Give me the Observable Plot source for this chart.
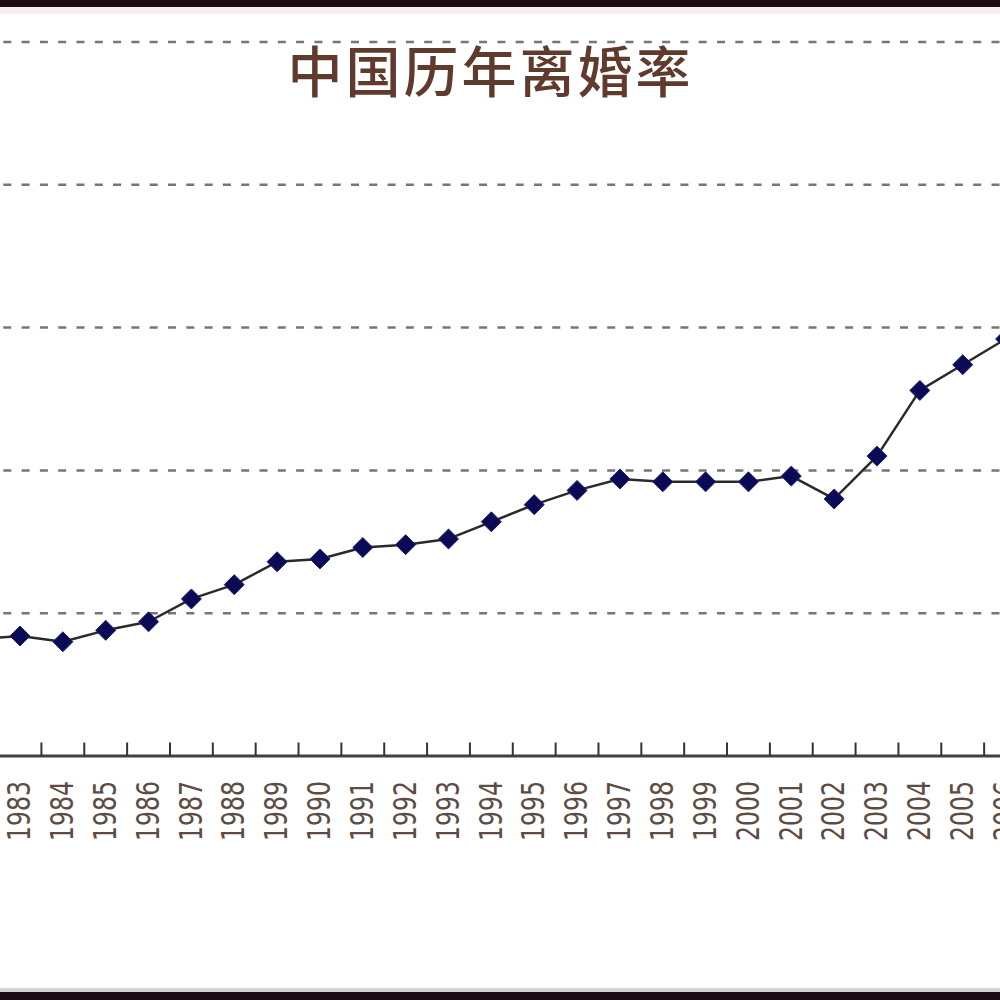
<!DOCTYPE html>
<html><head><meta charset="utf-8">
<script src="https://cdn.jsdelivr.net/npm/d3@7"></script>
<script src="https://cdn.jsdelivr.net/npm/@observablehq/plot@0.6"></script>
<style>
html,body{margin:0;padding:0;background:#fff;}
#wrap{position:relative;width:1000px;height:1000px;overflow:hidden;background:#fff;}
#chart svg{display:block;overflow:hidden;}
#title{position:absolute;left:0;top:41px;width:981px;text-align:center;font-family:"Noto Sans CJK SC";font-weight:500;font-size:55px;line-height:1;letter-spacing:3px;color:#603a2c;}
.bar{position:absolute;left:0;width:1000px;}
</style></head>
<body>
<div id="wrap">
  <div id="chart"></div>
  <div id="title">中国历年离婚率</div>
  <div class="bar" style="top:0;height:7px;background:#1c0c14"></div>
  <div class="bar" style="top:7px;height:7px;background:#fbedf1"></div>
  <div class="bar" style="top:988px;height:4px;background:#d9d3d6"></div>
  <div class="bar" style="top:992px;height:8px;background:#1c0c14"></div>
</div>
<script>
const years = [1982, 1983, 1984, 1985, 1986, 1987, 1988, 1989, 1990, 1991, 1992, 1993, 1994, 1995, 1996, 1997, 1998, 1999, 2000, 2001, 2002, 2003, 2004, 2005, 2006];
const rates = [0.41, 0.42, 0.40, 0.44, 0.47, 0.55, 0.60, 0.68, 0.69, 0.73, 0.74, 0.76, 0.82, 0.88, 0.93, 0.97, 0.96, 0.96, 0.96, 0.98, 0.90, 1.05, 1.28, 1.37, 1.46];
const labelYears = years.slice(1);
const gridValues = [0.5, 1, 1.5, 2, 2.5];

const data = years.map((year, i) => ({year, rate: rates[i]}));
const boundaries = [1982].concat(labelYears).map(y => y + 0.5);

const W = 1000, H = 1000, mTop = 41.5, mBottom = 244.5;
const frameH = H - mTop - mBottom;

const chart = Plot.plot({
  width: W,
  height: H,
  marginLeft: 0,
  marginRight: 0,
  marginTop: mTop,
  marginBottom: mBottom,
  style: {background: "white", overflow: "hidden"},
  x: {domain: [1982.545, 2005.882], axis: null},
  y: {domain: [0, 2.5], axis: null},
  marks: [
    Plot.ruleY(gridValues, {stroke: "#767676", strokeWidth: 2.5, strokeDasharray: "8,10.3", strokeDashoffset: 15})
    ,Plot.ruleY([0], {stroke: "#404040", strokeWidth: 3})
    ,Plot.ruleX(boundaries, {stroke: "#333", strokeWidth: 2, insetTop: frameH - 13})
    ,Plot.axisX(labelYears, {
      label: null,
      tickSize: 0,
      tickPadding: 25,
      tickRotate: -90,
      tickFormat: d => String(d),
      fontSize: 32,
      fontFamily: "DejaVu Sans Condensed, DejaVu Sans, sans-serif",
      fill: "#5d4c44"
    })
    ,Plot.line(data, {x: "year", y: "rate", stroke: "#2a2a2a", strokeWidth: 2.5})
    ,Plot.dot(data, {x: "year", y: "rate", symbol: "diamond2", r: 9, fill: "#0b0b55", stroke: "#1d1d7a", strokeWidth: 1})
  ]
});
d3.select(chart).selectAll("g[aria-label='x-axis tick label'] text")
  .attr("textLength", 60)
  .attr("lengthAdjust", "spacingAndGlyphs");
document.getElementById("chart").appendChild(chart);
</script>
</body></html>
